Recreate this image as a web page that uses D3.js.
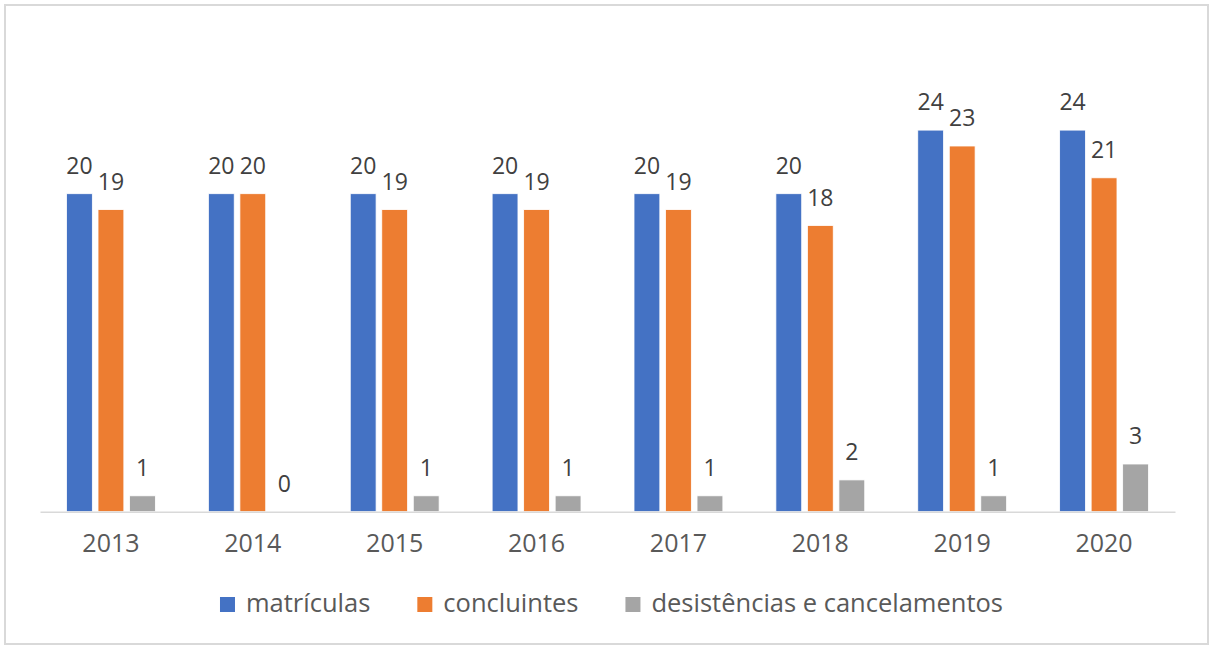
<!DOCTYPE html>
<html>
<head>
<meta charset="utf-8">
<script src="https://cdn.jsdelivr.net/npm/d3@7"></script>
<style>
  html, body { margin: 0; padding: 0; background: #fff; }
  svg { display: block; }
</style>
</head>
<body>
<svg id="chart" width="1211" height="648"></svg>
<script>
const categories = ["2013", "2014", "2015", "2016", "2017", "2018", "2019", "2020"];
const seriesNames = ["matrículas", "concluintes", "desistências e cancelamentos"];
const matriculas = [20, 20, 20, 20, 20, 20, 24, 24];
const concluintes = [19, 20, 19, 19, 19, 18, 23, 21];
const desistencias = [1, 0, 1, 1, 1, 2, 1, 3];
const colors = ["#4472C4", "#ED7D31", "#A5A5A5"];

const seriesValues = [matriculas, concluintes, desistencias];
const font = "'Open Sans', 'Noto Sans', sans-serif";

const svg = d3.select("#chart");

// outer border
svg.append("rect")
  .attr("x", 5).attr("y", 5).attr("width", 1203).attr("height", 639)
  .attr("fill", "#fff").attr("stroke", "#d9d9d9").attr("stroke-width", 2);

const plotLeft = 40, plotRight = 1175, baseY = 511.7;
const x0 = d3.scaleBand().domain(categories).range([plotLeft, plotRight]).padding(0);
const groupPad = 26.5;
const x1 = d3.scaleBand().domain(seriesNames)
  .range([groupPad, x0.bandwidth() - groupPad]).paddingInner(0.18).paddingOuter(0);
const y = d3.scaleLinear().domain([0, 30]).range([baseY, baseY - 30 * 15.9]);

const rows = [];
categories.forEach((c, i) => {
  seriesNames.forEach((s, j) => {
    rows.push({ cat: c, series: s, value: seriesValues[j][i], color: colors[j] });
  });
});

const g = svg.append("g");

g.selectAll("rect.bar").data(rows).join("rect")
  .attr("class", "bar")
  .attr("x", d => x0(d.cat) + x1(d.series))
  .attr("y", d => y(d.value))
  .attr("width", x1.bandwidth())
  .attr("height", d => y(0) - y(d.value))
  .attr("fill", d => d.color)
  .attr("stroke", "#ffffff").attr("stroke-width", 0.8);

// axis line
const xAxis = d3.axisBottom(x0).tickSize(0).tickPadding(0);
const axisG = svg.append("g").attr("transform", `translate(0,${baseY})`).call(xAxis);
axisG.select(".domain").attr("stroke", "#d9d9d9").attr("stroke-width", 1.5);
axisG.selectAll(".tick text")
  .attr("y", 40.5).attr("dy", 0)
  .attr("font-family", font).attr("font-size", 25).attr("fill", "#595959");

// data labels
g.selectAll("text.lbl").data(rows).join("text")
  .attr("class", "lbl")
  .attr("x", d => x0(d.cat) + x1(d.series) + x1.bandwidth() / 2)
  .attr("y", d => y(d.value) - 20)
  .attr("text-anchor", "middle")
  .attr("font-family", font).attr("font-size", 23).attr("fill", "#404040")
  .text(d => d.value);

// legend
const legend = svg.append("g");
const items = legend.selectAll("g").data(seriesNames).join("g");
items.append("rect")
  .attr("width", 15).attr("height", 15).attr("y", 597)
  .attr("fill", (d, i) => colors[i]);
items.append("text")
  .attr("y", 612)
  .attr("font-family", font).attr("font-size", 25.5).attr("fill", "#595959")
  .text(d => d);
let widths = [];
items.select("text").each(function () { widths.push(this.getComputedTextLength()); });
const sq = 15, gapSqText = 11, gapItems = 47;
const total = widths.reduce((a, w) => a + sq + gapSqText + w, 0) + gapItems * (widths.length - 1);
let cx = 611.5 - total / 2;
items.each(function (d, i) {
  const it = d3.select(this);
  it.select("rect").attr("x", cx);
  it.select("text").attr("x", cx + sq + gapSqText);
  cx += sq + gapSqText + widths[i] + gapItems;
});
</script>
</body>
</html>
